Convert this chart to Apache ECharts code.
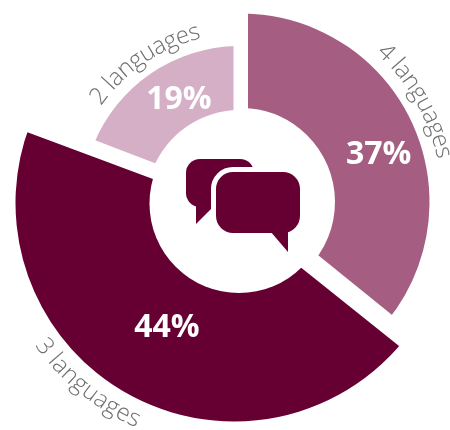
<!DOCTYPE html>
<html>
<head>
<meta charset="utf-8">
<style>html,body{margin:0;padding:0;background:#fff}#c{width:450px;height:430px}</style>
<script src="https://cdn.jsdelivr.net/npm/echarts@6/dist/echarts.min.js"></script>
</head>
<body>
<div id="c"></div>
<script>
const categories = ['4 languages', '3 languages', '2 languages'];
const shares = [37, 44, 19];
const sliceColors = ['#a55e82', '#660033', '#d5afc6'];
const sliceCenters = [[241, 202], [234, 203], [240, 204]];
const sliceRadii = [[94, 188.5], [80, 218.5], [94, 158]];
const startClock = [1, 129, 292];     // degrees clockwise from 12 o'clock
const sweep = [128, 162, 67];         // drawn sweep, trimmed by the white gaps below
const percentOffsets = [[7, 14], [9, -7], [12, 2]];
const nameRadii = [208, 238, 177];
const nameMid = [60, 219, 326];
const nameFlip = [false, true, false];
const holeCircle = {cx: 239, cy: 203.5, r: 89.5};
const gapBands = [
  [[233.5, 0], [248, 0], [248, 125], [233.5, 125]],
  [[10, 125.7], [165, 183.5], [165, 167], [20, 111.5]],
  [[300, 240.5], [410, 329.4], [420, 362.8], [290, 258.8]]
];

const chart = echarts.init(document.getElementById('c'), null, {renderer: 'canvas'});
const nameFont = '300 24px "Open Sans"';
const ctx = document.createElement('canvas').getContext('2d');
ctx.font = nameFont;

function arcText(text, c, r, mid, flip) {
  const widths = [...text].map(ch => ctx.measureText(ch).width);
  const total = widths.reduce((a, b) => a + b, 0);
  let run = -total / 2;
  return [...text].map((ch, i) => {
    const off = (run + widths[i] / 2) / r * 180 / Math.PI;
    run += widths[i];
    const a = flip ? mid - off : mid + off;
    const rad = a * Math.PI / 180;
    const rot = flip ? a - 180 : a;
    return {
      type: 'text', silent: true, z: 20,
      x: c[0] + r * Math.sin(rad), y: c[1] - r * Math.cos(rad),
      rotation: -rot * Math.PI / 180,
      style: {text: ch, font: nameFont, fill: '#6f6f6f', align: 'center', verticalAlign: 'middle'}
    };
  });
}

const series = shares.map((v, i) => ({
  type: 'pie',
  name: categories[i],
  silent: true,
  animation: false,
  center: sliceCenters[i],
  radius: sliceRadii[i],
  startAngle: 90 - startClock[i],
  clockwise: true,
  avoidLabelOverlap: false,
  z: 2,
  labelLine: {show: false},
  data: [
    {
      name: categories[i], value: v,
      itemStyle: {color: sliceColors[i]},
      label: {
        show: true, position: 'inside', formatter: '{c}%', offset: percentOffsets[i],
        color: '#fff', fontFamily: 'Open Sans', fontWeight: 700, fontSize: 32
      }
    },
    {
      name: 'rest', value: v * (360 - sweep[i]) / sweep[i],
      itemStyle: {color: 'transparent'},
      label: {show: false}
    }
  ]
}));

const dark = sliceColors[1];
const hole = [{type: 'circle', silent: true, z: 4, shape: holeCircle, style: {fill: '#fff'}}];
const gaps = gapBands.map(points => ({type: 'polygon', silent: true, z: 5, shape: {points}, style: {fill: '#fff'}}));
const icon = [
  {type: 'rect', z: 10, silent: true, shape: {x: 186, y: 159, width: 68, height: 48, r: 14}, style: {fill: dark}},
  {type: 'polygon', z: 10, silent: true, shape: {points: [[196, 200], [196, 224], [218, 202]]}, style: {fill: dark}},
  {type: 'rect', z: 11, silent: true, shape: {x: 216, y: 172, width: 84, height: 61, r: 17}, style: {fill: dark, stroke: '#fff', lineWidth: 10}},
  {type: 'rect', z: 12, silent: true, shape: {x: 216, y: 172, width: 84, height: 61, r: 17}, style: {fill: dark}},
  {type: 'polygon', z: 12, silent: true, shape: {points: [[270, 231], [288, 252], [288, 229]]}, style: {fill: dark}}
];

const names = categories.flatMap((t, i) => arcText(t, sliceCenters[i], nameRadii[i], nameMid[i], nameFlip[i]));

chart.setOption({
  animation: false,
  backgroundColor: '#fff',
  series,
  graphic: {elements: hole.concat(gaps, icon, names)}
});
</script>
</body>
</html>
